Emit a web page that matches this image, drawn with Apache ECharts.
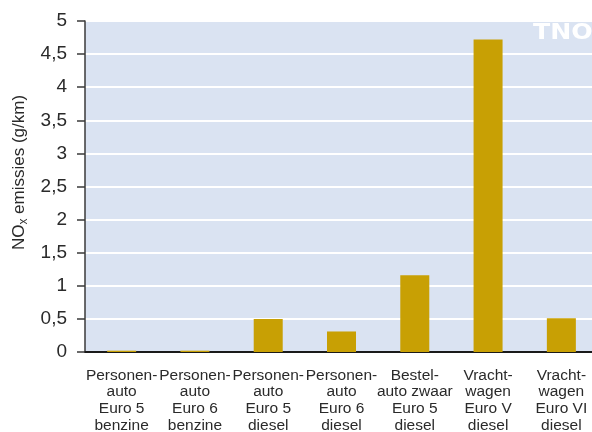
<!DOCTYPE html>
<html>
<head>
<meta charset="utf-8">
<script src="https://cdn.jsdelivr.net/npm/echarts@6/dist/echarts.min.js"></script>
<style>
html,body{margin:0;padding:0;background:#fff;}
#c{width:592px;height:432px;}
</style>
</head>
<body>
<div id="c"></div>
<script>
const categories = [
  'Personen-\nauto\nEuro 5\nbenzine',
  'Personen-\nauto\nEuro 6\nbenzine',
  'Personen-\nauto\nEuro 5\ndiesel',
  'Personen-\nauto\nEuro 6\ndiesel',
  'Bestel-\nauto zwaar\nEuro 5\ndiesel',
  'Vracht-\nwagen\nEuro V\ndiesel',
  'Vracht-\nwagen\nEuro VI\ndiesel'
];
const noxValues = [0.02, 0.02, 0.50, 0.31, 1.16, 4.72, 0.51];
const yMin = 0, yMax = 5, yStep = 0.5;

const chart = echarts.init(document.getElementById('c'), null, {renderer: 'canvas'});
const font = 'Liberation Sans';
chart.setOption({
  backgroundColor: '#ffffff',
  animation: false,
  grid: {
    left: 85, top: 21, width: 513, height: 331,
    outerBoundsMode: 'none', containLabel: false,
    show: true, backgroundColor: '#dae3f2', borderWidth: 0
  },
  xAxis: {
    type: 'category',
    data: categories,
    axisLine: {show: true, lineStyle: {color: '#1a1a1a', width: 2}},
    axisTick: {show: false},
    axisLabel: {
      interval: 0, fontFamily: font, fontSize: 15.5, lineHeight: 16.7,
      color: '#2a2a2a', margin: 15
    }
  },
  yAxis: {
    type: 'value',
    min: yMin, max: yMax, interval: yStep,
    axisLine: {show: true, lineStyle: {color: '#3a3a3a', width: 1.5}},
    axisTick: {show: true, length: 8, lineStyle: {color: '#3a3a3a', width: 1.5}},
    axisLabel: {
      fontFamily: font, fontSize: 19, color: '#2a2a2a', margin: 18,
      formatter: v => String(v).replace('.', ',')
    },
    splitLine: {show: true, lineStyle: {color: '#ffffff', width: 2}},
    name: '{a|NO}{b|x}{a| emissies (g/km)}',
    nameLocation: 'middle',
    nameGap: 50,
    nameTextStyle: {
      padding: [0, 0, 0, 28],
      rich: {
        a: {fontFamily: font, fontSize: 17, color: '#2a2a2a'},
        b: {fontFamily: font, fontSize: 12, color: '#2a2a2a', verticalAlign: 'bottom', padding: [8, 0, 0, 0]}
      }
    }
  },
  series: [{
    type: 'bar',
    data: noxValues,
    barWidth: 29,
    itemStyle: {color: '#c8a004'}
  }],
  graphic: [{
    type: 'text',
    x: 533, y: 23,
    scaleX: 1.2,
    style: {
      text: 'TNO', fill: '#ffffff',
      font: '900 21px "DejaVu Sans"'
    },
    silent: true
  }]
});
</script>
</body>
</html>
